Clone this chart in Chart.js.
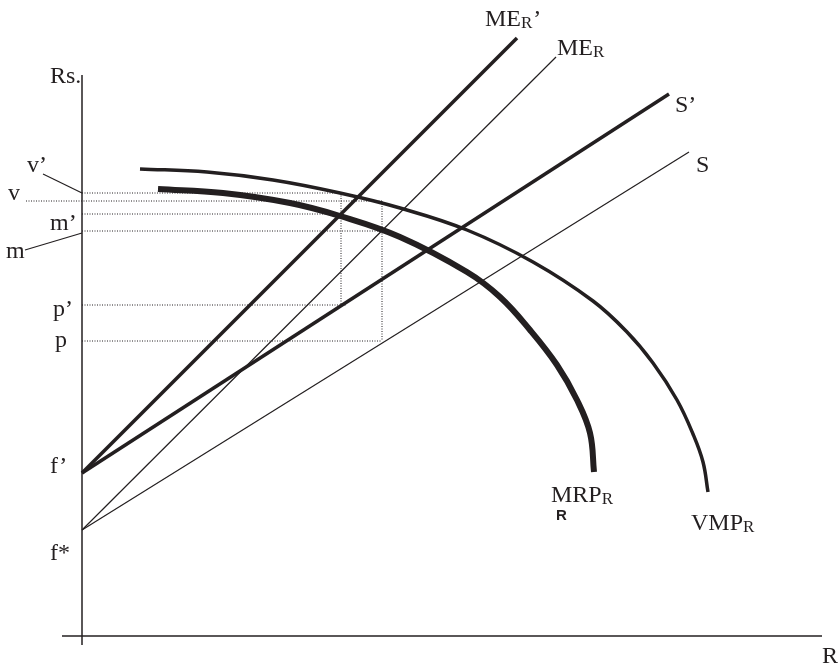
<!DOCTYPE html>
<html>
<head>
<meta charset="utf-8">
<script src="https://cdn.jsdelivr.net/npm/chart.js@4.4.0/dist/chart.umd.min.js"></script>
<style>
  body { margin: 0; background: #fff; }
  canvas { display: block; }
</style>
</head>
<body>
<canvas id="chart" width="838" height="667"></canvas>
<script>
// units, origin where the axes cross
const fPrime = 163;
const fStar = 106;

const meRPrime = [[0, fPrime], [435, 598]];
const meR = [[0, fStar], [474, 579]];
const sPrime = [[0, fPrime], [587, 542]];
const sLine = [[0, fStar], [607, 484]];

const vmpR = [[58, 467], [125, 464], [191, 456], [258, 443], [318, 428], [385, 406], [451, 374],
  [511, 335], [545, 304], [571, 273], [595, 236], [611, 202], [621, 174], [626, 144]];
const mrpR = [[76, 447], [141, 443], [208, 433], [258, 420], [318, 399], [385, 364],
  [418, 339], [448, 306], [475, 271], [495, 236], [508, 203], [512, 164]];

// price levels and the two quantities they come from
const levels = { vPrime: 443, v: 435, mPrime: 422, m: 405, pPrime: 331, p: 295 };
const rLow = 259;
const rHigh = 300;

const axisX = [[-20, 0], [740, 0]];
const axisY = [[0, -9], [0, 561]];

const pts = arr => arr.map(([x, y]) => ({ x, y }));
const ink = '#231f20';

function line(data, width, extra) {
  return Object.assign({
    data: pts(data),
    showLine: true,
    borderColor: ink,
    borderWidth: width,
    pointRadius: 0,
    fill: false,
    clip: false
  }, extra || {});
}

function dotted(data) {
  return line(data, 1, { borderDash: [1, 1.5] });
}

const datasets = [
  line(axisX, 1.5),
  line(axisY, 1.5),
  dotted([[0, levels.vPrime], [rLow, levels.vPrime]]),
  dotted([[-56, levels.v], [rHigh, levels.v]]),
  dotted([[0, levels.mPrime], [rLow, levels.mPrime]]),
  dotted([[0, levels.m], [rHigh, levels.m]]),
  dotted([[0, levels.pPrime], [265, levels.pPrime]]),
  dotted([[0, levels.p], [rHigh, levels.p]]),
  dotted([[rLow, levels.vPrime], [rLow, levels.pPrime]]),
  dotted([[rHigh, levels.v], [rHigh, levels.p]]),
  line([[-39, 462], [0, levels.vPrime]], 1.2),
  line([[-57, 386], [0, 403]], 1.2),
  line(meR, 1.2),
  line(sLine, 1.2),
  line(meRPrime, 3.5),
  line(sPrime, 3.5),
  line(vmpR, 3.5, { tension: 0.4 }),
  line(mrpR, 6, { tension: 0.4 })
];

const serif = '"Liberation Serif", "Times New Roman", serif';
const textLabels = [
  { text: 'Rs.', at: [-32, 553] },
  { text: 'v’', at: [-55, 464] },
  { text: 'v', at: [-74, 436] },
  { text: 'm’', at: [-32, 406] },
  { text: 'm', at: [-76, 378] },
  { text: 'p’', at: [-29, 320] },
  { text: 'p', at: [-27, 289] },
  { text: 'f’', at: [-32, 163] },
  { text: 'f*', at: [-32, 76] },
  { text: 'R', at: [740, -27] },
  { text: 'ME', sub: 'R', tail: '’', at: [403, 610] },
  { text: 'ME', sub: 'R', at: [475, 581] },
  { text: 'S’', at: [593, 524] },
  { text: 'S', at: [614, 464] },
  { text: 'MRP', sub: 'R', at: [469, 134] },
  { text: 'R', at: [474, 116], font: 'bold 15px "Liberation Sans", Arial, sans-serif' },
  { text: 'VMP', sub: 'R', at: [609, 106] }
];

const labelPlugin = {
  id: 'labels',
  afterDatasetsDraw(chart) {
    const { ctx, scales: { x, y } } = chart;
    ctx.save();
    ctx.fillStyle = ink;
    ctx.textBaseline = 'alphabetic';
    textLabels.forEach(l => {
      let px = x.getPixelForValue(l.at[0]);
      const py = y.getPixelForValue(l.at[1]);
      const mainFont = l.font || '24px ' + serif;
      ctx.font = mainFont;
      ctx.fillText(l.text, px, py);
      px += ctx.measureText(l.text).width;
      if (l.sub) {
        ctx.font = '17px ' + serif;
        ctx.fillText(l.sub, px, py + 2);
        px += ctx.measureText(l.sub).width;
      }
      if (l.tail) {
        ctx.font = mainFont;
        ctx.fillText(l.tail, px + 1, py);
      }
    });
    ctx.restore();
  }
};

new Chart(document.getElementById('chart'), {
  type: 'scatter',
  data: { datasets: datasets },
  options: {
    responsive: false,
    animation: false,
    devicePixelRatio: 1,
    layout: { padding: 0 },
    plugins: { legend: { display: false }, tooltip: { enabled: false } },
    scales: {
      x: { type: 'linear', min: -82, max: 756, display: false },
      y: { type: 'linear', min: -31, max: 636, display: false }
    }
  },
  plugins: [labelPlugin]
});
</script>
</body>
</html>
